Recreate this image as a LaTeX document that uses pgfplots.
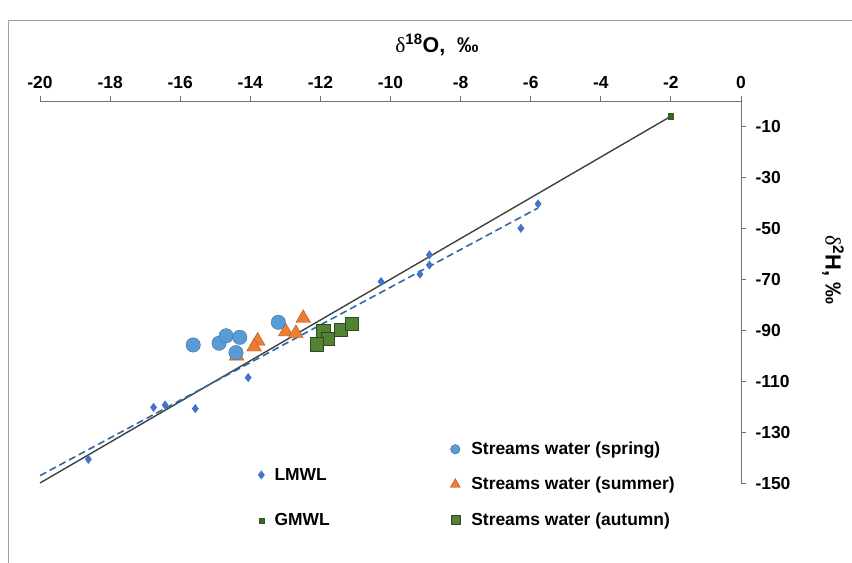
\documentclass[border=0pt]{standalone}
\usepackage{pgfplots}
\pgfplotsset{compat=1.18}
\usepackage{fontspec}
\setmainfont{Liberation Sans}
\newfontfamily\symfont{Liberation Serif}
\definecolor{axisgray}{HTML}{6F6F6F}
\definecolor{framegray}{HTML}{A0A0A0}
\definecolor{gmwlline}{HTML}{404040}
\definecolor{lmwlline}{HTML}{2F6AA8}
\definecolor{lmwl}{HTML}{4472C4}
\definecolor{gmwl}{HTML}{375623}
\definecolor{springF}{HTML}{5B9BD5}
\definecolor{springD}{HTML}{41719C}
\definecolor{summerF}{HTML}{ED7D31}
\definecolor{summerD}{HTML}{AE5A21}
\definecolor{autumnF}{HTML}{548235}
\definecolor{autumnD}{HTML}{2F4A1E}
\begin{document}
\begin{tikzpicture}
\useasboundingbox (0bp,0bp) rectangle (852bp,-563bp);
\draw[framegray, line width=0.8bp] (8bp,-563bp) -- (8bp,-20bp) -- (852bp,-20bp);
\begin{axis}[
  at={(40bp,-483bp)}, anchor=south west,
  scale only axis, width=701bp, height=382bp,
  xmin=-20, xmax=0, ymin=-150, ymax=0,
  axis x line*=top, axis y line*=right,
  axis line style={draw=axisgray, line width=1bp, -},
  xtick={-20,-18,...,0}, ytick={-10,-30,-50,-70,-90,-110,-130,-150},
  tick align=outside, major tick length=5bp,
  tick style={axisgray, line width=1bp},
  /pgf/number format/assume math mode=true,
  tick label style={font=\bfseries\fontsize{17.5}{20}\selectfont},
  yticklabel style={xshift=6bp},
  xticklabel style={yshift=4bp},
  clip=false,
  legend style={draw=none, fill=none, inner sep=0pt, row sep=17bp,
    font=\bfseries\fontsize{17.5}{20}\selectfont,
    at={(axis description cs:0.585,0.1126)}, anchor=north west},
  legend cell align=left,
  legend image code/.code={\draw[#1] plot coordinates {(0bp,0bp)};},
]
\addplot[no marks, color=gmwlline, line width=1.4bp, forget plot] coordinates {(-20,-150) (-2,-6)};
\addplot[no marks, color=lmwlline, line width=1.6bp, dash pattern=on 7bp off 4bp, forget plot] coordinates {(-20,-147.1) (-5.79,-42)};
\addplot[only marks, mark=diamond*, mark size=4.2bp, color=lmwl, forget plot] coordinates {
(-18.62,-140.7) (-16.76,-120.3) (-16.43,-119.4) (-15.57,-120.8) (-14.06,-108.6)
(-10.27,-70.9) (-9.16,-68.0) (-8.89,-64.4) (-8.89,-60.4) (-6.28,-50.0) (-5.79,-40.4)};
\addplot[only marks, mark=square*, mark size=2.6bp, draw=gmwl, fill=gmwl!85!green, forget plot] coordinates {(-2,-6)};
\addplot[only marks, mark=triangle*, mark size=8.5bp, draw=summerD, fill=summerF, forget plot] coordinates {
(-13.79,-94.2) (-13.89,-96.5) (-14.39,-100.1) (-12.99,-90.6) (-12.70,-91.2) (-12.49,-85.3)};
\addplot[only marks, mark=*, mark size=7.2bp, draw=springD, fill=springF, forget plot] coordinates {
(-15.63,-95.8) (-14.89,-95.1) (-14.69,-92.2) (-14.30,-92.8) (-14.41,-98.8) (-13.20,-86.9)};
\addplot[only marks, mark=square*, mark size=6.6bp, draw=autumnD, fill=autumnF, forget plot] coordinates {
(-11.92,-90.3) (-11.80,-93.2) (-12.11,-95.5) (-11.41,-89.9) (-11.11,-87.5)};
\addlegendimage{only marks, mark=*, mark size=4.8bp, draw=springD, fill=springF}
\addlegendentry{\hspace{9bp}Streams water (spring)}
\addlegendimage{only marks, mark=triangle*, mark size=5.8bp, draw=summerD, fill=summerF}
\addlegendentry{\hspace{9bp}Streams water (summer)}
\addlegendimage{only marks, mark=square*, mark size=4.5bp, draw=autumnD, fill=autumnF}
\addlegendentry{\hspace{9bp}Streams water (autumn)}
\end{axis}
\begin{axis}[
  at={(40bp,-483bp)}, anchor=south west,
  scale only axis, width=701bp, height=382bp,
  xmin=-20, xmax=0, ymin=-150, ymax=0,
  hide axis,
  legend style={draw=none, fill=none, inner sep=0pt, row sep=28bp,
    font=\bfseries\fontsize{17.5}{20}\selectfont,
    at={(axis description cs:0.311,0.0445)}, anchor=north west},
  legend cell align=left,
  legend image code/.code={\draw[#1] plot coordinates {(0bp,0bp)};},
]
\addlegendimage{only marks, mark=diamond*, mark size=4.2bp, color=lmwl}
\addlegendentry{\hspace{8bp}LMWL}
\addlegendimage{only marks, mark=square*, mark size=2.6bp, draw=gmwl, fill=gmwl!85!green}
\addlegendentry{\hspace{8bp}GMWL}
\end{axis}
\node[font=\bfseries\fontsize{21.5}{26}\selectfont] at (437bp,-45bp) {{\symfont\mdseries δ}\textsuperscript{18}O,~~‰};
\node[rotate=-90, font=\bfseries\fontsize{22}{26}\selectfont] at (833bp,-270bp) {{\symfont\mdseries δ}\textsuperscript{2}H, ‰};
\end{tikzpicture}
\end{document}
